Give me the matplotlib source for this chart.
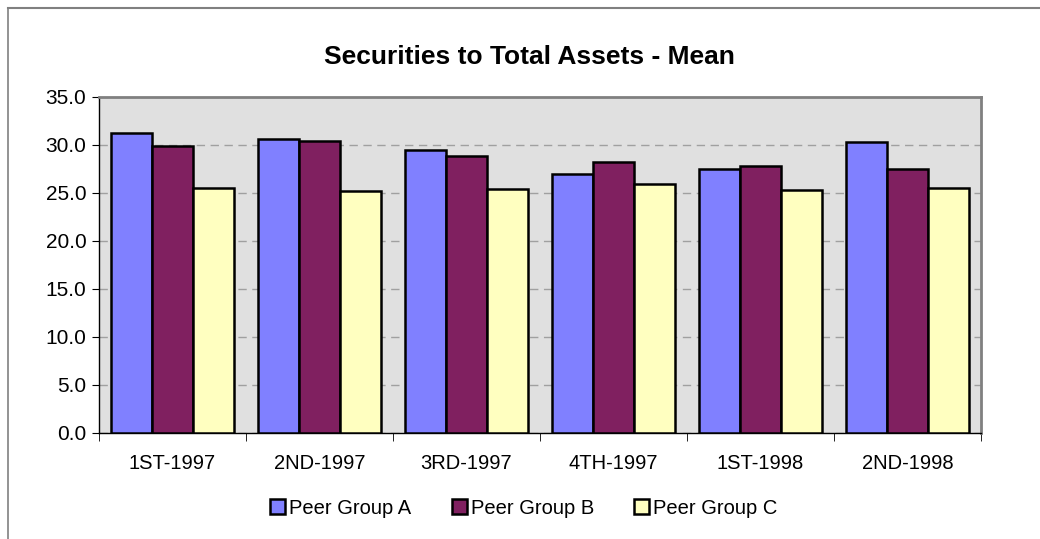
import matplotlib.pyplot as plt
import numpy as np
from matplotlib.lines import Line2D

plt.rcParams['font.family'] = ['Liberation Sans', 'DejaVu Sans']

categories = ['1ST-1997', '2ND-1997', '3RD-1997', '4TH-1997', '1ST-1998', '2ND-1998']
group_a = [31.2, 30.6, 29.5, 27.0, 27.5, 30.3]
group_b = [29.9, 30.4, 28.9, 28.2, 27.8, 27.5]
group_c = [25.5, 25.2, 25.4, 25.9, 25.3, 25.5]
series_names = ['Peer Group A', 'Peer Group B', 'Peer Group C']
colors = ['#8080FF', '#802060', '#FFFFC0']

W, H = 1040, 539
fig = plt.figure(figsize=(W / 100, H / 100), dpi=100)
ax = fig.add_axes([99 / W, 1 - 433 / H, (981 - 99) / W, (433 - 97) / H])
ax.set_facecolor('#E0E0E0')

# outer chart border (top and left only visible)
fig.add_artist(Line2D([8 / W, 8 / W], [0, 1 - 8 / H], transform=fig.transFigure,
                      color='#808080', lw=1.2))
fig.add_artist(Line2D([8 / W, 1], [1 - 8 / H, 1 - 8 / H], transform=fig.transFigure,
                      color='#808080', lw=1.5))

x = np.arange(len(categories))
width = 0.28
for i, (vals, name, col) in enumerate(zip([group_a, group_b, group_c], series_names, colors)):
    ax.bar(x + (i - 1) * width, vals, width, color=col, edgecolor='black',
           linewidth=1.8, label=name, zorder=3)

ax.set_xlim(-0.5, len(categories) - 0.5)
ax.set_ylim(0, 35)
ax.set_yticks(np.arange(0, 35.1, 5))
ax.set_yticklabels([f'{v:.1f}' for v in np.arange(0, 35.1, 5)], fontsize=15)
ax.yaxis.grid(True, color='#A0A0A0', linestyle=(0, (6, 4)), lw=1, zorder=1)

ax.set_xticks(x)
ax.set_xticklabels(categories, fontsize=14.5)
ax.tick_params(axis='x', length=0, pad=15)
ax.set_xticks(np.arange(-0.5, len(categories), 1), minor=True)
ax.tick_params(axis='x', which='minor', length=6, direction='out', color='black')
ax.tick_params(axis='y', length=5, direction='out', color='black', pad=4)

for s in ['top', 'right']:
    ax.spines[s].set_color('#808080')
    ax.spines[s].set_linewidth(2)
for s in ['left', 'bottom']:
    ax.spines[s].set_color('black')
    ax.spines[s].set_linewidth(1)

fig.text(529 / W, 1 - 57 / H, 'Securities to Total Assets - Mean', ha='center',
         va='center', fontsize=19, fontweight='bold')

fig.legend(loc='center', bbox_to_anchor=(524 / W, 1 - 508 / H), ncol=3, frameon=False,
           fontsize=14.5, handlelength=0.75, handleheight=0.75, handletextpad=0.2,
           columnspacing=2.0)

fig.savefig('out.png', dpi=100)
